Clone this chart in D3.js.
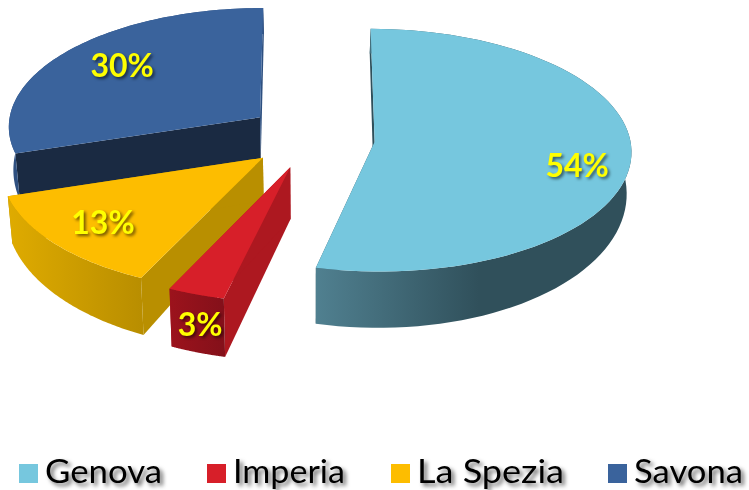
<!DOCTYPE html>
<html><head><meta charset="utf-8">
<script src="https://cdn.jsdelivr.net/npm/d3@7"></script>
<style>html,body{margin:0;padding:0;background:#fff}svg{display:block}
.lab{font-family:Lato,sans-serif;font-weight:700;font-size:32px;fill:#ffff00;text-anchor:middle;dominant-baseline:central;filter:drop-shadow(2px 2px 1.5px rgba(0,0,0,.55))}
.leg{font-family:Lato,sans-serif;font-size:33px;fill:#000;filter:drop-shadow(3px 3px 2px rgba(0,0,0,.6))}
</style></head><body><svg id="c" width="749" height="490"></svg>
<script>
const categories=["Genova","Imperia","La Spezia","Savona"];
const values=[53.7,3.3,13.1,29.9];
const topColors=["#76c7de","#d71f29","#fdbd00","#3a639c"];
const startFace=["#2f505b","#ad1820","#b98f00","#1a2a42"];
const endFace=["#2f505b","#ad1820","#b98f00","#2e5080"];
const outerFrom=["#508090","#9c131c","#dfab00","#2f5080"];
const outerTo=["#30505b","#84101a","#b98e00","#2f5080"];
const legendX=[19,207,391,608];
const legendW=[117,112,147,109];

const explode=.24,persp=.07;
const radius=[.99,1,1,.98];
const nudgeX=[2,0,-1,-1.5], nudgeY=[1,2,1,-3];
const depthBase=[40,50,40,44], depthSlope=[16,7,16,16];
const xs=d3.scaleLinear([0,1],[311,569]);
const ys=d3.scaleLinear([0,1],[137.4,258.9]);
const svg=d3.select("#c");
const defs=svg.append("defs");
const pies=d3.pie().sort(null).value(d=>d)(values);
pies.sort((a,b)=>a.index-b.index);

function proj(X,Y,drop,i){
  const w=1-persp*Y;
  const sx=xs(X/w)+nudgeX[i], sy=ys(Y/w)+nudgeY[i];
  if(!drop) return [sx,sy];
  const depth=depthBase[i]+depthSlope[i]*Y;
  return [xs(0)+(sx-xs(0))*.985, sy+depth];
}
const line=d3.line();
function pt(p,t,r){
  const m=(p.startAngle+p.endAngle)/2;
  return [explode*Math.sin(m)+r*Math.sin(t), -explode*Math.cos(m)-r*Math.cos(t)];
}
function arcAngles(p){
  const n=80;
  return d3.range(n+1).map(i=>p.startAngle+(p.endAngle-p.startAngle)*i/n);
}
[3,2,1,0].forEach(i=>{
  const p=pies[i], R=radius[i];
  const A=arcAngles(p);
  const ap=pt(p,0,0);
  const face=(t,fill)=>{
    const q=pt(p,t,R);
    svg.append("path").attr("fill",fill).attr("d",line([proj(ap[0],ap[1],false,i),proj(q[0],q[1],false,i),proj(q[0],q[1],true,i),proj(ap[0],ap[1],true,i)])+"Z");
  };
  face(p.startAngle,startFace[i]);
  face(p.endAngle,endFace[i]);
  const upper=A.map(t=>{const q=pt(p,t,R);return proj(q[0],q[1],false,i);});
  const lower=A.map(t=>{const q=pt(p,t,R);return proj(q[0],q[1],true,i);}).reverse();
  const xe=d3.extent(upper,d=>d[0]);
  const gid="g"+i;
  const stopX=i===0?xe[0]+163:xe[1];
  const g=defs.append("linearGradient").attr("id",gid).attr("gradientUnits","userSpaceOnUse")
    .attr("x1",xe[0]).attr("x2",stopX).attr("y1",0).attr("y2",0);
  g.append("stop").attr("offset",0).attr("stop-color",outerFrom[i]);
  g.append("stop").attr("offset",1).attr("stop-color",outerTo[i]);
  svg.append("path").attr("fill",`url(#${gid})`).attr("d",line(upper.concat(lower))+"Z");
  const topPts=[proj(ap[0],ap[1],false,i)].concat(upper);
  svg.append("path").attr("fill",topColors[i]).attr("d",line(topPts)+"Z");
});
const labelFrac=[.79,1,.8,.78];
const labelDx=[-2,4,5,16.5], labelDy=[11,2,-4,0], labelDrop=[0,27,0,0];
pies.forEach((p,i)=>{
  const m=(p.startAngle+p.endAngle)/2;
  const q=pt(p,m,labelFrac[i]);
  const s=proj(q[0],q[1],false,i);
  svg.append("text").attr("class","lab").attr("x",s[0]+labelDx[i]).attr("y",s[1]+labelDrop[i]+labelDy[i]).text(Math.round(values[i])+"%");
});
categories.forEach((c,i)=>{
  svg.append("rect").attr("x",legendX[i]).attr("y",464).attr("width",19).attr("height",19).attr("fill",topColors[i]);
  svg.append("text").attr("class","leg").attr("x",legendX[i]+26).attr("y",483)
    .attr("textLength",legendW[i]).attr("lengthAdjust","spacingAndGlyphs").text(c);
});
</script></body></html>
